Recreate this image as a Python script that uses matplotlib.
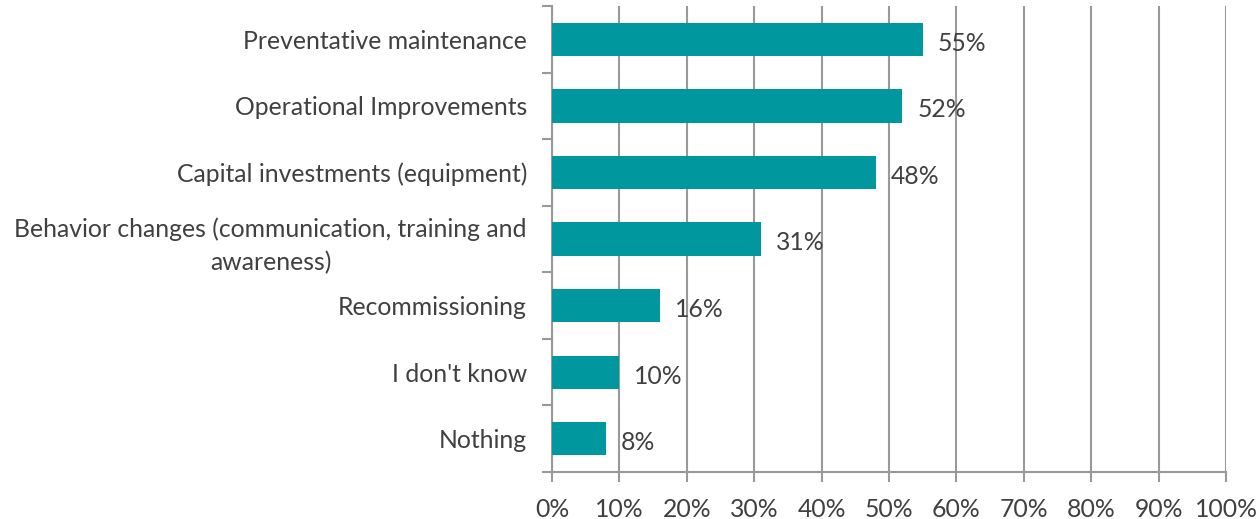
import numpy as np
import matplotlib.pyplot as plt

categories = ['Preventative maintenance', 'Operational Improvements',
              'Capital investments (equipment)',
              'Behavior changes (communication, training and\nawareness)',
              'Recommissioning', "I don't know", 'Nothing']
values = [55, 52, 48, 31, 16, 10, 8]
xticks = list(range(0, 101, 10))

plt.rcParams['font.family'] = ['Lato', 'DejaVu Sans']
fs = 17.8

fig = plt.figure(figsize=(12.59, 5.19), dpi=100)
ax = fig.add_axes([552/1259, 47/519, 674/1259, 466/519])

y = np.arange(len(categories))
ax.barh(y, values, height=0.5, color='#00979F', zorder=3)
for yi, v in zip(y, values):
    ax.text(v + 2.2, yi + 0.06, f'{v}%', va='center', ha='left', fontsize=fs, color='#404040', zorder=4)

ax.set_xlim(0, 100)
ax.set_ylim(len(categories) - 0.5, -0.5)
ax.set_xticks(xticks)
ax.set_xticklabels([f'{t}%' for t in xticks], fontsize=fs, color='#404040')
ax.set_yticks(y)
ax.set_yticklabels(categories, fontsize=fs, color='#404040', multialignment='center', linespacing=1.5)
ax.set_yticks(np.arange(-0.5, len(categories)), minor=True)
ax.tick_params(axis='y', which='major', length=0, pad=18)
ax.tick_params(axis='y', which='minor', length=7, width=1.5, color='#999999')
ax.tick_params(axis='x', length=7, width=1.5, color='#999999', pad=12)

ax.grid(axis='x', color='#999999', linewidth=1.5, zorder=0)
for s in ['top', 'right']:
    ax.spines[s].set_visible(False)
for s in ['left', 'bottom']:
    ax.spines[s].set_color('#999999')
    ax.spines[s].set_linewidth(1.5)

fig.savefig('out.png', dpi=100)
